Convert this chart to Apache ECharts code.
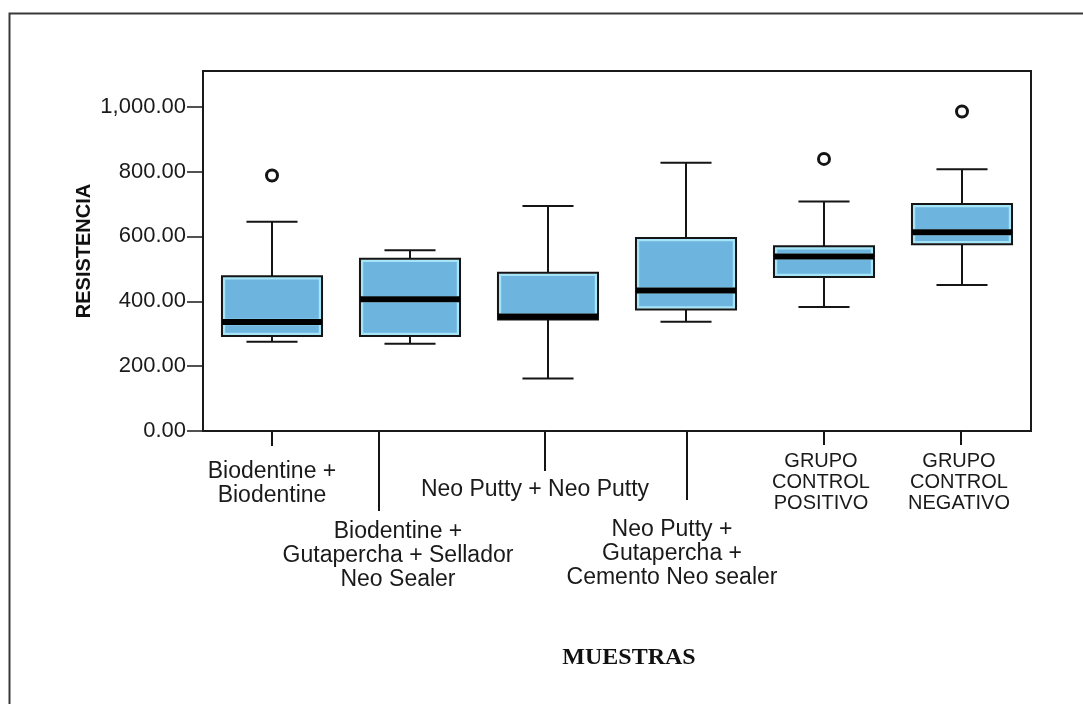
<!DOCTYPE html>
<html>
<head>
<meta charset="utf-8">
<script src="https://cdn.jsdelivr.net/npm/echarts@6/dist/echarts.min.js"></script>
<style>
  html, body { margin: 0; padding: 0; background: #fff; }
  #chart { width: 1083px; height: 704px; }
</style>
</head>
<body>
<div id="chart"></div>
<script>
// muestras
const categories = [
  'Biodentine +\nBiodentine',
  'Biodentine +\nGutapercha + Sellador\nNeo Sealer',
  'Neo Putty + Neo Putty',
  'Neo Putty +\nGutapercha +\nCemento Neo sealer',
  'GRUPO\nCONTROL\nPOSITIVO',
  'GRUPO\nCONTROL\nNEGATIVO'
]
const whiskerLow = [275, 269, 162, 337, 382, 450]
const q1 = [293, 293, 344, 375, 475, 576]
const median = [336, 406, 353, 433, 538, 613]
const q3 = [477, 531, 488, 595, 570, 700]
const whiskerHigh = [645, 557, 694, 827, 708, 807]
// [category index, value]
const outliers = [[0, 788], [4, 839], [5, 985]]
const yTicks = [0, 200, 400, 600, 800, 1000]

// label layout (pixels, relative to category centre on the x axis)
const labelDx = [0, -12, -13, -14, -3, -3]
const labelDy = [29, 89, 47, 87, 20, 20]
const labelSize = [23, 23, 23, 23, 20, 20]
const labelLine = [24, 24, 24, 24, 21, 21]
const leaderDx = [0, -31, -3, 1, 0, -1]
const leaderLen = [15, 80, 40, 69, 14, 14]

function fmt(v) {
  const s = v.toFixed(2).split('.')
  return s[0].replace(/\B(?=(\d{3})+(?!\d))/g, ',') + '.' + s[1]
}

const chart = echarts.init(document.getElementById('chart'))

chart.setOption({
  backgroundColor: '#fff',
  animation: false,
  graphic: [{
    type: 'polyline',
    shape: { points: [[9.5, 704], [9.5, 13.5], [1083, 13.5]] },
    style: { stroke: '#3a3a3a', lineWidth: 2, fill: null }
  }],
  grid: {
    left: 203,
    right: 52,
    top: 71,
    bottom: 273,
    show: true,
    borderColor: '#1a1a1a',
    borderWidth: 2
  },
  xAxis: {
    type: 'category',
    data: categories,
    axisLine: { lineStyle: { color: '#1a1a1a', width: 2 } },
    axisTick: { show: false },
    axisLabel: { show: false },
    splitLine: { show: false },
    name: 'MUESTRAS',
    nameLocation: 'middle',
    nameGap: 215,
    nameTextStyle: {
      fontFamily: 'Liberation Serif',
      fontWeight: 'bold',
      fontSize: 24,
      color: '#111',
      padding: [0, 0, 0, 24]
    }
  },
  yAxis: {
    type: 'value',
    min: 0,
    max: 1110,
    interval: 200,
    axisLine: { show: true, lineStyle: { color: '#1a1a1a', width: 2 } },
    axisTick: {
      show: true,
      length: 16,
      customValues: yTicks,
      lineStyle: { color: '#1a1a1a', width: 1.5 }
    },
    axisLabel: {
      customValues: yTicks,
      margin: 17,
      fontFamily: 'Liberation Sans',
      fontSize: 22,
      color: '#1a1a1a',
      formatter: fmt
    },
    splitLine: { show: false },
    name: 'RESISTENCIA',
    nameLocation: 'middle',
    nameRotate: 90,
    nameGap: 109,
    nameMoveOverlap: false,
    nameTextStyle: {
      fontFamily: 'Liberation Sans',
      fontWeight: 'bold',
      fontSize: 20,
      color: '#111'
    }
  },
  series: [
    {
      type: 'custom',
      name: 'box',
      data: categories.map((c, i) => [i, whiskerLow[i], q1[i], median[i], q3[i], whiskerHigh[i]]),
      encode: { x: 0, y: [1, 2, 3, 4, 5] },
      renderItem: function (params, api) {
        const i = api.value(0)
        const band = api.size([1, 0])[0]
        const bw = band * 0.725
        const cw = band * 0.37
        const x = api.coord([i, 0])[0]
        const yLo = api.coord([i, api.value(1)])[1]
        const yQ1 = api.coord([i, api.value(2)])[1]
        const yMed = api.coord([i, api.value(3)])[1]
        const yQ3 = api.coord([i, api.value(4)])[1]
        const yHi = api.coord([i, api.value(5)])[1]
        const ink = { stroke: '#151515', lineWidth: 2 }
        const fill = { fill: '#6db5df', stroke: '#a6e5f8', lineWidth: 2.5 }
        const x0 = x - bw / 2
        return {
          type: 'group',
          children: [
            { type: 'line', shape: { x1: x, y1: yLo, x2: x, y2: yQ1 }, style: ink },
            { type: 'line', shape: { x1: x - cw / 2, y1: yLo, x2: x + cw / 2, y2: yLo }, style: ink },
            { type: 'line', shape: { x1: x, y1: yQ3, x2: x, y2: yHi }, style: ink },
            { type: 'line', shape: { x1: x - cw / 2, y1: yHi, x2: x + cw / 2, y2: yHi }, style: ink },
            { type: 'rect', shape: { x: x0 + 2, y: yMed + 2, width: bw - 4, height: Math.max(yQ1 - yMed - 4, 0) }, style: fill },
            { type: 'rect', shape: { x: x0 + 2, y: yQ3 + 2, width: bw - 4, height: Math.max(yMed - yQ3 - 4, 0) }, style: fill },
            { type: 'rect', shape: { x: x0, y: yQ3, width: bw, height: yQ1 - yQ3 }, style: { fill: null, stroke: '#151515', lineWidth: 2 } },
            { type: 'rect', shape: { x: x0, y: yMed - 3, width: bw, height: 6 }, style: { fill: '#000' } }
          ]
        }
      },
      z: 2
    },
    {
      type: 'scatter',
      name: 'outliers',
      data: outliers,
      symbol: 'circle',
      symbolSize: 11,
      itemStyle: { color: '#fff', borderColor: '#151515', borderWidth: 3, opacity: 1 },
      z: 3
    },
    {
      type: 'custom',
      name: 'labels',
      silent: true,
      clip: false,
      data: categories.map((c, i) => [i, 0]),
      encode: { x: 0, y: 1 },
      renderItem: function (params, api) {
        const i = api.value(0)
        const p = api.coord([i, 0])
        return {
          type: 'group',
          children: [
            {
              type: 'line',
              shape: { x1: p[0] + leaderDx[i], y1: p[1], x2: p[0] + leaderDx[i], y2: p[1] + leaderLen[i] },
              style: { stroke: '#151515', lineWidth: 2 }
            },
            {
              type: 'text',
              x: p[0] + labelDx[i],
              y: p[1] + labelDy[i],
              style: {
                text: categories[i],
                align: 'center',
                verticalAlign: 'top',
                fontFamily: 'Liberation Sans',
                fontSize: labelSize[i],
                lineHeight: labelLine[i],
                fill: '#1a1a1a'
              }
            }
          ]
        }
      },
      z: 1
    }
  ]
})
</script>
</body>
</html>
